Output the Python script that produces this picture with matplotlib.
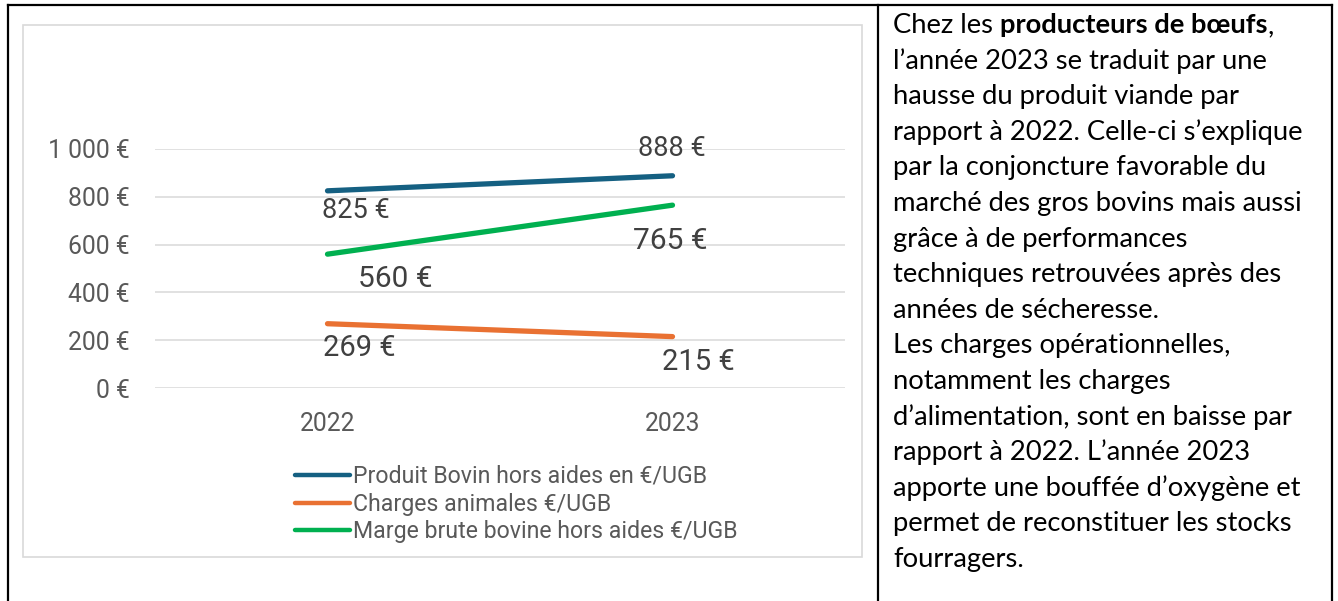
import matplotlib
matplotlib.use("Agg")
import matplotlib.pyplot as plt
from matplotlib.lines import Line2D
from matplotlib.patches import Rectangle
from matplotlib.ticker import FuncFormatter, FixedLocator

# ---------------- data ----------------
years = ["2022", "2023"]
series_names = [
    "Produit Bovin hors aides en €/UGB",
    "Charges animales €/UGB",
    "Marge brute bovine hors aides €/UGB",
]
produit = [825, 888]
charges = [269, 215]
marge = [560, 765]
y_ticks = [0, 200, 400, 600, 800, 1000]

text_lines = [
    [("Chez les ", False), ("producteurs de bœufs", True), (",", False)],
    [("l’année 2023 se traduit par une", False)],
    [("hausse du produit viande par", False)],
    [("rapport à 2022. Celle-ci s’explique", False)],
    [("par la conjoncture favorable du", False)],
    [("marché des gros bovins mais aussi", False)],
    [("grâce à de performances", False)],
    [("techniques retrouvées après des", False)],
    [("années de sécheresse.", False)],
    [("Les charges opérationnelles,", False)],
    [("notamment les charges", False)],
    [("d’alimentation, sont en baisse par", False)],
    [("rapport à 2022. L’année 2023", False)],
    [("apporte une bouffée d’oxygène et", False)],
    [("permet de reconstituer les stocks", False)],
    [("fourragers.", False)],
]

# ---------------- styles ----------------
colors = ["#156082", "#E97132", "#00B050"]
# label offsets in pixels (dx, dy downward) per series, per year
label_offsets = [
    [(28, 20), (-1, -27)],
    [(32, 24), (26, 25)],
    [(68, 25), (-2, 36)],
]
label_sizes = [19.5, 21, 21.5]

W, H = 1338, 601
DPI = 100
fig = plt.figure(figsize=(W / DPI, H / DPI), dpi=DPI)
fig.patch.set_facecolor("white")

def fx(x):
    return x / W

def fy(y):
    return 1 - y / H

chart_font = ["Roboto", "DejaVu Sans"]
grey = "#595959"

# chart frame
fig.patches.append(Rectangle((fx(23), fy(557)), fx(862) - fx(23), fy(25) - fy(557),
                             transform=fig.transFigure, fill=False,
                             edgecolor="#D9D9D9", linewidth=1.2))

# axes
ax_l, ax_r, ax_t, ax_b = 155, 845, 149, 388
ax = fig.add_axes([fx(ax_l), fy(ax_b), fx(ax_r) - fx(ax_l), fy(ax_t) - fy(ax_b)])
ax.set_xlim(-0.5, 1.5)
ax.set_ylim(0, 1000)
for s in ax.spines.values():
    s.set_visible(False)
ax.yaxis.set_major_locator(FixedLocator(y_ticks))
ax.yaxis.set_major_formatter(FuncFormatter(lambda v, p: f"{int(v):,}".replace(",", " ") + " €"))
ax.grid(axis="y", color="#D9D9D9", linewidth=1.1)
ax.set_axisbelow(True)
ax.tick_params(axis="both", length=0, labelsize=17.8, labelcolor=grey)
ax.tick_params(axis="y", pad=18)
ax.tick_params(axis="x", pad=17)
ax.set_xticks(range(len(years)))
ax.set_xticklabels(years)
for lab in ax.get_xticklabels() + ax.get_yticklabels():
    lab.set_family(chart_font)

xs = list(range(len(years)))
all_series = [produit, charges, marge]
for i, (vals, name) in enumerate(zip(all_series, series_names)):
    ax.plot(xs, vals, color=colors[i], linewidth=3.8, solid_capstyle="round", label=name)
    for j, v in enumerate(vals):
        dx, dy = label_offsets[i][j]
        ax.annotate(f"{v} €", (xs[j], v), xytext=(dx * 72 / DPI, -dy * 72 / DPI),
                    textcoords="offset points", ha="center", va="center",
                    fontsize=label_sizes[i], color="#404040", family=chart_font)

leg_handles = [Line2D([0], [0], color=c, linewidth=3.2, solid_capstyle="round") for c in colors]
leg = fig.legend(leg_handles, series_names, loc="upper left",
                 bbox_to_anchor=(fx(295), fy(465)), frameon=False,
                 handlelength=2.35, handletextpad=0.15, labelspacing=0.2,
                 borderaxespad=0, borderpad=0, prop={"family": chart_font, "size": 16.7})
for t in leg.get_texts():
    t.set_color(grey)

# table borders
lw_tab = 1.6
for (x0, y0, x1, y1) in [(8, 5, 1332, 5), (8, 5, 8, 601), (878, 5, 878, 601), (1332, 5, 1332, 601)]:
    fig.add_artist(Line2D([fx(x0), fx(x1)], [fy(y0), fy(y1)], color="black",
                          linewidth=lw_tab, transform=fig.transFigure))

# right text
text_font = ["Lato", "DejaVu Sans"]
fig.canvas.draw()
renderer = fig.canvas.get_renderer()
x_start = 893
base0 = 33
step = 35.6
tsize = 19.7
for k, line in enumerate(text_lines):
    x = fx(x_start)
    yy = fy(base0 + k * step)
    for seg, bold in line:
        t = fig.text(x, yy, seg, fontsize=tsize, family=text_font,
                     fontweight="bold" if bold else "normal", va="baseline", ha="left",
                     color="black")
        bb = t.get_window_extent(renderer=renderer)
        x += bb.width / W

fig.savefig("out.png", dpi=DPI, facecolor="white")
